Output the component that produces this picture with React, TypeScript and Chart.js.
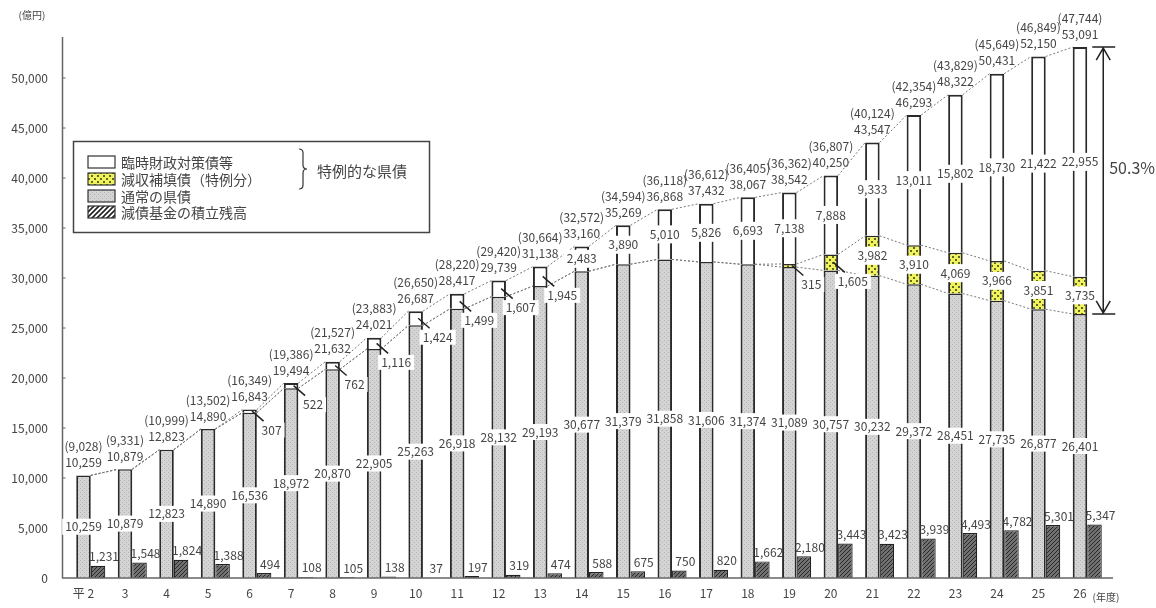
import React, { useEffect, useRef } from 'react';
import { Chart, registerables } from 'chart.js';

Chart.register(...registerables);

const years = ['平 2', '3', '4', '5', '6', '7', '8', '9', '10', '11', '12', '13', '14', '15', '16', '17', '18', '19', '20', '21', '22', '23', '24', '25', '26'];
const normalDebt = [10259, 10879, 12823, 14890, 16536, 18972, 20870, 22905, 25263, 26918, 28132, 29193, 30677, 31379, 31858, 31606, 31374, 31089, 30757, 30232, 29372, 28451, 27735, 26877, 26401];
const reductionDebt = [0, 0, 0, 0, 0, 0, 0, 0, 0, 0, 0, 0, 0, 0, 0, 0, 0, 315, 1605, 3982, 3910, 4069, 3966, 3851, 3735];
const specialDebt = [0, 0, 0, 0, 307, 522, 762, 1116, 1424, 1499, 1607, 1945, 2483, 3890, 5010, 5826, 6693, 7138, 7888, 9333, 13011, 15802, 18730, 21422, 22955];
const reserveFund = [1231, 1548, 1824, 1388, 494, 108, 105, 138, 37, 197, 319, 474, 588, 675, 750, 820, 1662, 2180, 3443, 3423, 3939, 4493, 4782, 5301, 5347];
const totalDebt = [10259, 10879, 12823, 14890, 16843, 19494, 21632, 24021, 26687, 28417, 29739, 31138, 33160, 35269, 36868, 37432, 38067, 38542, 40250, 43547, 46293, 48322, 50431, 52150, 53091];
const netDebt = [9028, 9331, 10999, 13502, 16349, 19386, 21527, 23883, 26650, 28220, 29420, 30664, 32572, 34594, 36118, 36612, 36405, 36362, 36807, 40124, 42354, 43829, 45649, 46849, 47744];
const yTicks = [0, 5000, 10000, 15000, 20000, 25000, 30000, 35000, 40000, 45000, 50000];
const yMax = 54000;

const TEXT = '#444';
const JP = "'Noto Sans CJK JP', 'Noto Sans', sans-serif";
const NUM_FONT = `12px ${JP}`;

const fmt = (v: number) => v.toLocaleString('en-US');

function makePattern(size: number, draw: (c: CanvasRenderingContext2D) => void): CanvasPattern | string {
  const cv = document.createElement('canvas');
  cv.width = size;
  cv.height = size;
  const c = cv.getContext('2d');
  if (!c) return '#ccc';
  draw(c);
  const p = c.createPattern(cv, 'repeat');
  return p || '#ccc';
}

export default function App() {
  const ref = useRef<HTMLCanvasElement | null>(null);

  useEffect(() => {
    if (!ref.current) return;

    const patNormal = makePattern(4, (c) => {
      c.fillStyle = '#d4d4d4';
      c.fillRect(0, 0, 4, 4);
      c.fillStyle = '#b4b4b4';
      c.fillRect(0, 0, 1, 1);
      c.fillRect(2, 2, 1, 1);
    });
    const patYellow = makePattern(6, (c) => {
      c.fillStyle = '#f2f25c';
      c.fillRect(0, 0, 6, 6);
      c.fillStyle = '#5d6b22';
      c.fillRect(1, 1, 2, 2);
      c.fillRect(4, 4, 2, 2);
    });
    const patReserve = makePattern(4, (c) => {
      c.fillStyle = '#707070';
      c.fillRect(0, 0, 4, 4);
      c.fillStyle = '#2a2a2a';
      c.fillRect(3, 0, 1, 1);
      c.fillRect(2, 1, 1, 1);
      c.fillRect(1, 2, 1, 1);
      c.fillRect(0, 3, 1, 1);
    });
    const patReserveLegend = makePattern(5, (c) => {
      c.fillStyle = '#fff';
      c.fillRect(0, 0, 5, 5);
      c.strokeStyle = '#222';
      c.lineWidth = 1.6;
      c.beginPath();
      c.moveTo(-1, 6);
      c.lineTo(6, -1);
      c.moveTo(-1, 1);
      c.lineTo(1, -1);
      c.moveTo(4, 6);
      c.lineTo(6, 4);
      c.stroke();
    });

    const overlay = {
      id: 'overlay',
      afterDatasetsDraw(chart: any) {
        const ctx: CanvasRenderingContext2D = chart.ctx;
        const ys = chart.scales.y;
        const area = chart.chartArea;
        const mN = chart.getDatasetMeta(0);
        const mR = chart.getDatasetMeta(3);
        const n = years.length;
        const bx = (i: number) => mN.data[i].x;
        const bw = mN.data[0].width;
        const py = (v: number) => ys.getPixelForValue(v);

        ctx.save();
        // axes lines
        const axisX = area.left - 7.5;
        ctx.strokeStyle = '#666';
        ctx.lineWidth = 1.5;
        ctx.beginPath();
        ctx.moveTo(axisX, py(yMax) - 1);
        ctx.lineTo(axisX, area.bottom);
        ctx.lineTo(area.right + 5, area.bottom);
        ctx.stroke();
        ctx.lineWidth = 1;
        yTicks.forEach((t) => {
          if (t === 0) return;
          ctx.beginPath();
          ctx.moveTo(axisX, py(t));
          ctx.lineTo(axisX + 3, py(t));
          ctx.stroke();
        });

        // series lines
        const cumA = normalDebt.map((v) => v);
        const cumB = normalDebt.map((v, i) => v + reductionDebt[i]);
        const cumC = normalDebt.map((v, i) => v + reductionDebt[i] + specialDebt[i]);
        ctx.strokeStyle = '#777';
        ctx.lineWidth = 1;
        ctx.setLineDash([2, 2]);
        [cumA, cumB, cumC].forEach((cum) => {
          for (let i = 0; i < n - 1; i++) {
            ctx.beginPath();
            ctx.moveTo(bx(i) + bw / 2, py(cum[i]));
            ctx.lineTo(bx(i + 1) - bw / 2, py(cum[i + 1]));
            ctx.stroke();
          }
        });
        ctx.setLineDash([]);

        ctx.font = NUM_FONT;
        ctx.textAlign = 'center';
        ctx.textBaseline = 'middle';

        const boxLabel = (text: string, cx: number, cy: number, h = 16) => {
          const w = ctx.measureText(text).width + 6;
          ctx.fillStyle = '#fff';
          ctx.fillRect(cx - w / 2, cy - h / 2, w, h);
          ctx.fillStyle = TEXT;
          ctx.fillText(text, cx, cy);
        };

        const segLabel = (i: number, lo: number, val: number) => {
          const x = bx(i);
          const mid = py(lo + val / 2);
          if (val >= 2000) {
            boxLabel(fmt(val), x, mid, 18);
          } else {
            ctx.strokeStyle = '#222';
            ctx.lineWidth = 1.5;
            ctx.beginPath();
            ctx.moveTo(x + 2.5, mid);
            ctx.lineTo(x + 14, mid + 10);
            ctx.stroke();
            boxLabel(fmt(val), x + 22, mid + 19, 15);
          }
        };

        for (let i = 0; i < n; i++) {
          const x = bx(i);
          boxLabel(fmt(normalDebt[i]), x, py(normalDebt[i] / 2), 16);
          if (reductionDebt[i] > 0) segLabel(i, normalDebt[i], reductionDebt[i]);
          if (specialDebt[i] > 0) segLabel(i, normalDebt[i] + reductionDebt[i], specialDebt[i]);
          ctx.fillStyle = TEXT;
          const top = py(totalDebt[i]);
          ctx.fillText(fmt(totalDebt[i]), x, top - 13);
          ctx.fillText('(' + fmt(netDebt[i]) + ')', x, top - 29);
          const r = mR.data[i];
          ctx.fillText(fmt(reserveFund[i]), r.x + 6, py(reserveFund[i]) - 9);
        }

        // 50.3% annotation
        const last = n - 1;
        const hiY = py(totalDebt[last]);
        const loY = py(normalDebt[last]);
        const x0 = bx(last) + bw / 2 + 5;
        const x1 = x0 + 23;
        const vx = x0 + 11;
        ctx.strokeStyle = '#222';
        ctx.lineWidth = 1.5;
        ctx.beginPath();
        ctx.moveTo(x0, hiY);
        ctx.lineTo(x1, hiY);
        ctx.moveTo(x0, loY);
        ctx.lineTo(x1, loY);
        ctx.moveTo(vx, hiY);
        ctx.lineTo(vx, loY);
        ctx.moveTo(vx - 7, hiY + 13);
        ctx.lineTo(vx, hiY + 1);
        ctx.lineTo(vx + 7, hiY + 13);
        ctx.moveTo(vx - 7, loY - 13);
        ctx.lineTo(vx, loY - 1);
        ctx.lineTo(vx + 7, loY - 13);
        ctx.stroke();
        const share = ((specialDebt[last] + reductionDebt[last]) / totalDebt[last]) * 100;
        ctx.font = `16px ${JP}`;
        ctx.fillStyle = TEXT;
        ctx.textAlign = 'left';
        ctx.fillText(share.toFixed(1) + '%', vx + 6, (hiY + loY) / 2 - 13);

        // unit labels
        ctx.font = `10px ${JP}`;
        ctx.textAlign = 'center';
        ctx.fillText('(億円)', 32, 15);
        ctx.fillText('(年度)', 1106, 597);

        // legend
        const ds = chart.data.datasets;
        const items = [ds[2], ds[1], ds[0], ds[3]];
        const fills: any[] = ['#fff', patYellow, patNormal, patReserveLegend];
        const rowY = [162, 179, 196, 212];
        ctx.fillStyle = '#fff';
        ctx.fillRect(73, 141, 357, 92);
        ctx.strokeStyle = '#444';
        ctx.lineWidth = 1.5;
        ctx.strokeRect(73.5, 141.5, 356, 91);
        ctx.font = `14px ${JP}`;
        ctx.textAlign = 'left';
        items.forEach((d: any, k: number) => {
          const yy = rowY[k];
          ctx.fillStyle = fills[k];
          ctx.fillRect(88, yy - 6, 27, 12);
          ctx.strokeStyle = '#333';
          ctx.lineWidth = 1.2;
          ctx.strokeRect(88, yy - 6, 27, 12);
          ctx.fillStyle = TEXT;
          ctx.fillText(d.label, 121, yy + 1);
        });
        // brace
        ctx.strokeStyle = '#333';
        ctx.lineWidth = 1.2;
        ctx.beginPath();
        ctx.moveTo(299, 149);
        ctx.quadraticCurveTo(303, 149, 303, 153);
        ctx.lineTo(303, 165);
        ctx.quadraticCurveTo(303, 169, 307, 169);
        ctx.quadraticCurveTo(303, 169, 303, 173);
        ctx.lineTo(303, 185);
        ctx.quadraticCurveTo(303, 189, 299, 189);
        ctx.stroke();
        ctx.font = `15px ${JP}`;
        ctx.fillStyle = TEXT;
        ctx.fillText('特例的な県債', 317, 171);
        ctx.restore();
      },
    };

    const nz = (arr: number[]) => arr.map((v) => (v === 0 ? null : v));

    const chart = new Chart(ref.current, {
      type: 'bar',
      data: {
        labels: years,
        datasets: [
          {
            label: '通常の県債',
            data: normalDebt,
            backgroundColor: patNormal as any,
            borderColor: '#2a2a2a',
            borderWidth: { left: 2, right: 2, top: 1.5, bottom: 0 },
            borderSkipped: false,
            stack: 'debt',
          },
          {
            label: '減収補填債（特例分）',
            data: nz(reductionDebt) as any,
            backgroundColor: patYellow as any,
            borderColor: '#2a2a2a',
            borderWidth: { left: 2, right: 2, top: 1.5, bottom: 0 },
            borderSkipped: false,
            stack: 'debt',
          },
          {
            label: '臨時財政対策債等',
            data: nz(specialDebt) as any,
            backgroundColor: '#fff',
            borderColor: '#2a2a2a',
            borderWidth: { left: 2, right: 2, top: 2, bottom: 0 },
            borderSkipped: false,
            stack: 'debt',
          },
          {
            label: '減債基金の積立残高',
            data: reserveFund,
            backgroundColor: patReserve as any,
            borderColor: '#222',
            borderWidth: { left: 1.2, right: 1.2, top: 1.2, bottom: 0 },
            borderSkipped: false,
            stack: 'fund',
          },
        ],
      },
      options: {
        responsive: false,
        animation: false,
        layout: { padding: { left: 0, right: 48, top: 38, bottom: 0 } },
        datasets: { bar: { barPercentage: 1, categoryPercentage: 0.7 } },
        plugins: {
          legend: { display: false },
          tooltip: { enabled: false },
        },
        scales: {
          x: {
            stacked: true,
            grid: { display: false, drawTicks: false },
            border: { display: false },
            ticks: {
              autoSkip: false,
              maxRotation: 0,
              labelOffset: -7.25,
              padding: 8,
              color: TEXT,
              font: { size: 12, family: JP },
            },
            afterFit: (s: any) => {
              s.height = 30;
            },
          },
          y: {
            stacked: true,
            min: 0,
            max: yMax,
            grid: { display: false, drawTicks: false },
            border: { display: false },
            afterBuildTicks: (s: any) => {
              s.ticks = yTicks.map((v) => ({ value: v }));
            },
            ticks: {
              padding: 22,
              color: TEXT,
              font: { size: 12, family: JP },
              callback: (v: any) => fmt(Number(v)),
            },
            afterFit: (s: any) => {
              s.width = 70;
            },
          },
        },
      },
      plugins: [overlay],
    });

    return () => chart.destroy();
  }, []);

  return (
    <div style={{ position: 'absolute', left: 0, top: 0, width: 1156, height: 608, background: '#fff' }}>
      <canvas ref={ref} width={1156} height={608} style={{ width: 1156, height: 608 }} />
    </div>
  );
}
